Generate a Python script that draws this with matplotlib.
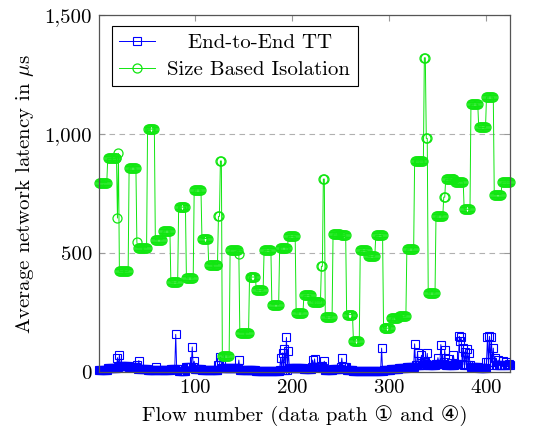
import numpy as np
import matplotlib.pyplot as plt
from matplotlib.ticker import FuncFormatter, MultipleLocator

# Size Based Isolation: latency per run of flows (value, number of flows)
green_vals = [796, 898, 647, 919, 423, 858, 546, 522, 1021, 556,
              593, 377, 693, 395, 765, 561, 451, 654, 887, 67,
              514, 496, 165, 399, 343, 511, 283, 522, 570, 248,
              322, 294, 444, 811, 230, 580, 577, 241, 130, 511,
              486, 574, 184, 227, 234, 517, 887, 1321, 982, 332,
              656, 735, 810, 800, 684, 1126, 1028, 1156, 746, 798]
run_len = [9, 10, 1, 1, 10, 8, 1, 10, 8, 8,
           8, 8, 8, 8, 8, 7, 10, 2, 2, 8,
           9, 1, 10, 7, 8, 8, 8, 9, 8, 8,
           8, 10, 2, 2, 8, 8, 6, 7, 7, 8,
           8, 8, 8, 8, 8, 8, 10, 2, 2, 8,
           8, 2, 10, 9, 7, 8, 8, 8, 8, 9]

# End-to-End TT: base latency for the same runs, plus single spikes
blue_base = [10, 18, 22, 20, 24, 20, 30, 14, 10, 8,
             8, 12, 6, 22, 12, 8, 10, 30, 40, 18,
             15, 20, 10, 8, 5, 5, 6, 10, 18, 15,
             12, 20, 25, 15, 10, 12, 20, 8, 6, 5,
             5, 6, 8, 12, 15, 20, 30, 40, 35, 28,
             35, 40, 30, 35, 30, 20, 15, 40, 30, 30]
spike_flows = [20, 22, 42, 60, 80, 97, 99, 126, 145, 188, 190, 192, 194, 196,
               221, 223, 233, 251, 292, 326, 329, 333, 339, 350, 353, 357,
               360, 366, 372, 373, 374, 376, 378, 380, 382, 401, 403, 405,
               407, 409, 412, 417, 420, 423]
spike_vals = [60, 72, 48, 22, 158, 105, 45, 62, 50, 60, 80, 95, 145, 90,
              50, 55, 45, 58, 100, 118, 80, 70, 78, 60, 115, 92,
              55, 70, 150, 130, 145, 100, 85, 95, 80, 145, 150, 145,
              100, 60, 50, 45, 40, 35]

flows = np.arange(1, sum(run_len) + 1)
green = np.repeat(green_vals, run_len)
blue = np.repeat(blue_base, run_len).astype(float)
blue[np.array(spike_flows) - 1] = spike_vals

plt.rcParams['font.family'] = ['cmr10', 'DejaVu Sans', 'Noto Sans CJK JP']
plt.rcParams['mathtext.fontset'] = 'cm'
plt.rcParams['axes.formatter.use_mathtext'] = True

fig = plt.figure(figsize=(5.47, 4.34), dpi=100)
ax = fig.add_axes([0.181, 0.143, 0.751, 0.822])

ax.plot(flows, blue, color='blue', lw=0.7, marker='s', ms=5.4,
        mfc='none', mew=0.8, clip_on=False, label='   End-to-End TT')
ax.plot(flows, green, color='#10e610', lw=0.7, marker='o', ms=6.5,
        mfc='none', mew=0.9, clip_on=False, label='Size Based Isolation')

ax.set_xlim(1, 424)
ax.set_ylim(0, 1500)
ax.xaxis.set_major_locator(MultipleLocator(100))
ax.yaxis.set_major_locator(MultipleLocator(500))
ax.yaxis.set_major_formatter(FuncFormatter(lambda v, p: f'{int(v):,}'))
ax.grid(axis='y', color='#b0b0b0', ls=(0, (5, 4)), lw=0.8)
ax.set_axisbelow(True)

for s in ax.spines.values():
    s.set_color('#555555')
    s.set_linewidth(0.9)
ax.tick_params(direction='in', top=True, right=True, length=4,
               color='#999999', labelsize=15, pad=5)

ax.set_xlabel('Flow number (data path ① and ④)', fontsize=15, labelpad=6)
ax.set_ylabel(r'Average network latency in $\mu$s', fontsize=15, labelpad=6)

leg = ax.legend(loc='upper left', bbox_to_anchor=(0.032, 0.969),
                fontsize=15, fancybox=False, edgecolor='black',
                framealpha=1, handlelength=1.7, borderaxespad=0,
                borderpad=0.35, labelspacing=0.4, handletextpad=0.6)
leg.get_frame().set_linewidth(0.8)

fig.savefig('out.png', dpi=100)
